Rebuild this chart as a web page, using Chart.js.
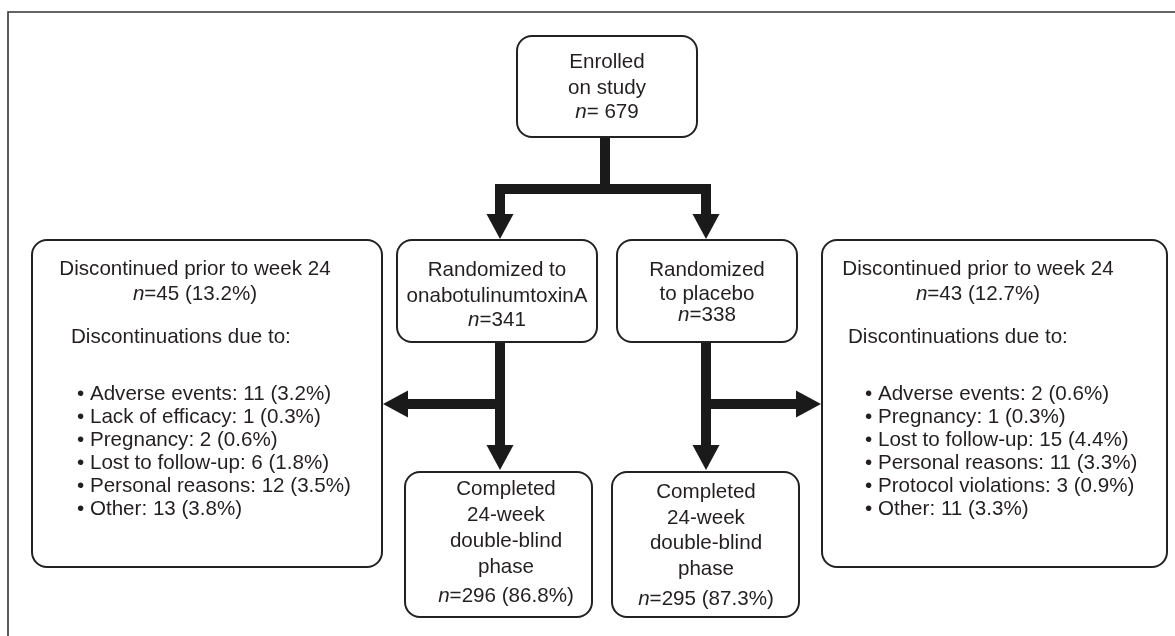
<!DOCTYPE html>
<html>
<head>
<meta charset="utf-8">
<script src="https://cdn.jsdelivr.net/npm/chart.js@4.4.1/dist/chart.umd.min.js"></script>
<style>
  html, body { margin: 0; padding: 0; background: #fff; }
  #wrap { width: 1175px; height: 636px; position: relative; }
</style>
</head>
<body>
<div id="wrap"><canvas id="flow"></canvas></div>
<script>
// datos del diagrama
const enrolled = 679;
const armNames = ["onabotulinumtoxinA", "placebo"];
const randomized = [341, 338];
const completed = [296, 295];
const completedPct = [86.8, 87.3];
const discontinued = [45, 43];
const discontinuedPct = [13.2, 12.7];

const reasonsA = ["Adverse events", "Lack of efficacy", "Pregnancy", "Lost to follow-up", "Personal reasons", "Other"];
const countsA = [11, 1, 2, 6, 12, 13];
const pctA = [3.2, 0.3, 0.6, 1.8, 3.5, 3.8];

const reasonsB = ["Adverse events", "Pregnancy", "Lost to follow-up", "Personal reasons", "Protocol violations", "Other"];
const countsB = [2, 1, 15, 11, 3, 11];
const pctB = [0.6, 0.3, 4.4, 3.3, 0.9, 3.3];

// layout (en unidades de la escala, 0..1175 x 0..636)
const boxes = {
  top:   { x0: 517, x1: 697, y0: 36,  y1: 137 },
  midA:  { x0: 397, x1: 597, y0: 240, y1: 342 },
  midB:  { x0: 617, x1: 797, y0: 240, y1: 342 },
  endA:  { x0: 405, x1: 592, y0: 472, y1: 617 },
  endB:  { x0: 612, x1: 799, y0: 472, y1: 617 },
  discA: { x0: 32,  x1: 382, y0: 240, y1: 567 },
  discB: { x0: 822, x1: 1167, y0: 240, y1: 567 },
};

const FONT = '"Liberation Sans", Arial, Helvetica, sans-serif';
const SIZE = 20.6;
const INK = "#231f20";

const nRun = (txt) => [{ t: "n", i: true }, { t: txt }];

// texto centrado: [cx, baselines, lines]
const centered = [
  [607, [68, 94, 118], ["Enrolled", "on study", nRun("= " + enrolled)]],
  [497, [276, 302, 326], ["Randomized to", armNames[0], nRun("=" + randomized[0])]],
  [707, [276, 300, 321], ["Randomized", "to " + armNames[1], nRun("=" + randomized[1])]],
  [506, [495, 521, 547, 573, 602], ["Completed", "24-week", "double-blind", "phase", nRun("=" + completed[0] + " (" + completedPct[0] + "%)")]],
  [706, [498, 524, 549, 575, 605], ["Completed", "24-week", "double-blind", "phase", nRun("=" + completed[1] + " (" + completedPct[1] + "%)")]],
];

const discLayout = [
  { hx: 195, hy: [275, 300], lx: 71, dy: 343, bx: 77, by: 400, step: 23 },
  { hx: 978, hy: [275, 300], lx: 848, dy: 343, bx: 865, by: 400, step: 23 },
];
const discData = [
  { n: discontinued[0], p: discontinuedPct[0], reasons: reasonsA, counts: countsA, pct: pctA },
  { n: discontinued[1], p: discontinuedPct[1], reasons: reasonsB, counts: countsB, pct: pctB },
];

const fmt = (v) => v.toFixed(1);

const flowPlugin = {
  id: "flow",
  afterDraw(chart) {
    const ctx = chart.ctx;
    const sx = chart.scales.x, sy = chart.scales.y;
    const px = (v) => sx.getPixelForValue(v);
    const py = (v) => sy.getPixelForValue(v);

    ctx.save();

    // marco exterior
    ctx.strokeStyle = "#333";
    ctx.lineWidth = 1.6;
    ctx.beginPath();
    ctx.moveTo(px(8), py(636));
    ctx.lineTo(px(8), py(12));
    ctx.lineTo(px(1175), py(12));
    ctx.stroke();

    // flechas
    ctx.strokeStyle = "#1a1a1a";
    ctx.fillStyle = "#1a1a1a";
    ctx.lineWidth = 10;
    ctx.lineJoin = "miter";
    ctx.lineCap = "butt";
    const poly = (pts) => {
      ctx.beginPath();
      pts.forEach((p, k) => (k ? ctx.lineTo(px(p[0]), py(p[1])) : ctx.moveTo(px(p[0]), py(p[1]))));
      ctx.stroke();
    };
    const head = (tx, ty, dir) => {
      const L = 25, W = 13.5;
      ctx.beginPath();
      if (dir === "down") {
        ctx.moveTo(px(tx), py(ty));
        ctx.lineTo(px(tx - W), py(ty - L));
        ctx.lineTo(px(tx + W), py(ty - L));
      } else if (dir === "left") {
        ctx.moveTo(px(tx), py(ty));
        ctx.lineTo(px(tx + L), py(ty - W));
        ctx.lineTo(px(tx + L), py(ty + W));
      } else {
        ctx.moveTo(px(tx), py(ty));
        ctx.lineTo(px(tx - L), py(ty - W));
        ctx.lineTo(px(tx - L), py(ty + W));
      }
      ctx.closePath();
      ctx.fill();
    };

    poly([[605, 137], [605, 189]]);
    poly([[500, 214], [500, 189], [706, 189], [706, 214]]);
    head(500, 239, "down");
    head(706, 239, "down");

    poly([[500, 342], [500, 445]]);
    poly([[505, 404], [407, 404]]);
    head(500, 470, "down");
    head(383, 404, "left");

    poly([[706, 342], [706, 445]]);
    poly([[701, 404], [796, 404]]);
    head(706, 470, "down");
    head(821, 404, "right");

    // cajas
    ctx.lineWidth = 2;
    ctx.strokeStyle = "#222";
    ctx.fillStyle = "#fff";
    Object.values(boxes).forEach((b) => {
      ctx.beginPath();
      ctx.roundRect(px(b.x0), py(b.y0), px(b.x1) - px(b.x0), py(b.y1) - py(b.y0), 15);
      ctx.fill();
      ctx.stroke();
    });

    // texto
    ctx.fillStyle = INK;
    ctx.textBaseline = "alphabetic";
    const setFont = (it) => (ctx.font = (it ? "italic " : "") + SIZE + "px " + FONT);
    const runs = (line) => (typeof line === "string" ? [{ t: line }] : line);
    const width = (rs) => rs.reduce((w, r) => { setFont(r.i); return w + ctx.measureText(r.t).width; }, 0);
    const draw = (line, x, yb, align) => {
      const rs = runs(line);
      let cx = px(x);
      if (align === "center") cx -= width(rs) / 2;
      ctx.textAlign = "left";
      rs.forEach((r) => {
        setFont(r.i);
        ctx.fillText(r.t, cx, py(yb));
        cx += ctx.measureText(r.t).width;
      });
    };

    centered.forEach(([cx, ys, lines]) => lines.forEach((l, k) => draw(l, cx, ys[k], "center")));

    discLayout.forEach((L, k) => {
      const d = discData[k];
      draw("Discontinued prior to week 24", L.hx, L.hy[0], "center");
      draw(nRun("=" + d.n + " (" + fmt(d.p) + "%)"), L.hx, L.hy[1], "center");
      draw("Discontinuations due to:", L.lx, L.dy, "left");
      d.reasons.forEach((r, j) => {
        draw("\u2022 " + r + ": " + d.counts[j] + " (" + fmt(d.pct[j]) + "%)", L.bx, L.by + j * L.step, "left");
      });
    });

    ctx.restore();
  },
};

new Chart(document.getElementById("flow"), {
  type: "scatter",
  data: { datasets: [] },
  options: {
    responsive: true,
    maintainAspectRatio: false,
    animation: false,
    layout: { padding: 0 },
    plugins: { legend: { display: false }, tooltip: { enabled: false } },
    scales: {
      x: { type: "linear", min: 0, max: 1175, display: false },
      y: { type: "linear", min: 0, max: 636, reverse: true, display: false },
    },
  },
  plugins: [flowPlugin],
});
</script>
</body>
</html>
